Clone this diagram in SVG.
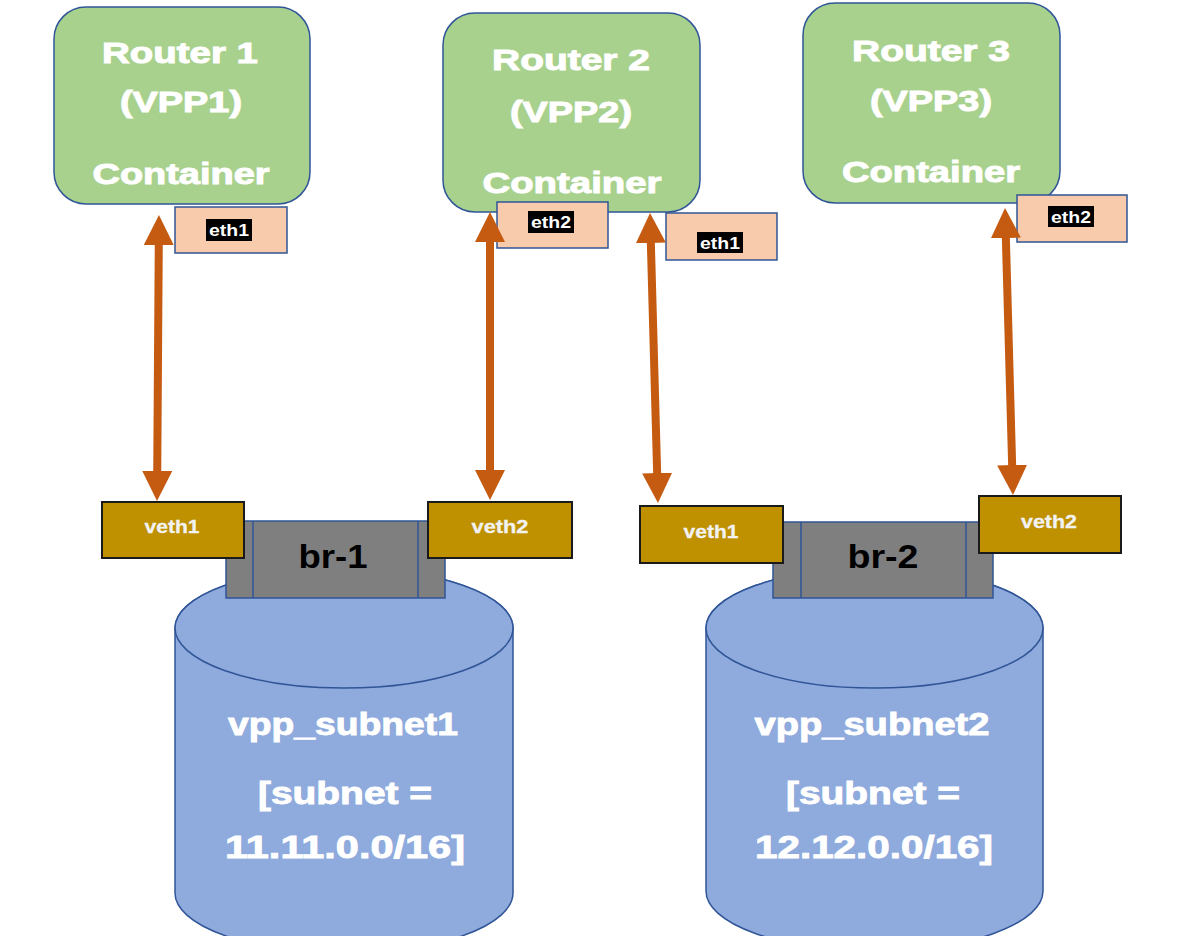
<svg xmlns="http://www.w3.org/2000/svg" width="1188" height="936" viewBox="0 0 1188 936">
<defs>
<style>
.router{fill:#a9d18e;stroke:#2f5597;stroke-width:1.5}
.rt{font-family:"Liberation Sans",Arial,sans-serif;font-weight:bold;font-size:30px;fill:#ffffff;stroke:#ffffff;stroke-width:1;text-anchor:middle}
.eth{fill:#f8cbad;stroke:#2f5597;stroke-width:1.5}
.hl{fill:#000000}
.et{font-family:"Liberation Sans",Arial,sans-serif;font-weight:bold;font-size:16px;fill:#ffffff;text-anchor:middle}
.veth{fill:#bf9000;stroke:#1a1a1a;stroke-width:2}
.vt{font-family:"Liberation Sans",Arial,sans-serif;font-weight:bold;font-size:19px;fill:#f2f2f2;stroke:#f2f2f2;stroke-width:0.3;text-anchor:middle}
.br{fill:#7f7f7f;stroke:#2f5597;stroke-width:1.5}
.brl{stroke:#2f5597;stroke-width:1.5}
.bt{font-family:"Liberation Sans",Arial,sans-serif;font-weight:bold;font-size:34px;fill:#000000;text-anchor:middle}
.cyl{fill:#8faadc;stroke:#2f5597;stroke-width:1.5}
.ct{font-family:"Liberation Sans",Arial,sans-serif;font-weight:bold;font-size:32px;fill:#ffffff;stroke:#ffffff;stroke-width:0.9;text-anchor:middle}
.conn{stroke:#c55a11;stroke-width:8;fill:none}
</style>
<marker id="ah" markerUnits="userSpaceOnUse" markerWidth="30" markerHeight="30" refX="20" refY="15" orient="auto-start-reverse">
<path d="M0,0 L30,15 L0,30 z" fill="#c55a11"/>
</marker>
</defs>
<rect width="1188" height="936" fill="#ffffff"/>

<g id="subnet1">
<path class="cyl" d="M175,628 L175,893 A169,60 0 0 0 513,893 L513,628 A169,60 0 0 0 175,628 z"/>
<ellipse class="cyl" cx="344" cy="628" rx="169" ry="60"/>
<text class="ct" x="343" y="735" textLength="230" lengthAdjust="spacingAndGlyphs">vpp_subnet1</text>
<text class="ct" x="345" y="804" textLength="174" lengthAdjust="spacingAndGlyphs">[subnet =</text>
<text class="ct" x="345" y="858" textLength="240" lengthAdjust="spacingAndGlyphs">11.11.0.0/16]</text>
</g>
<g id="subnet2">
<path class="cyl" d="M706,628 L706,891 A168.5,60 0 0 0 1043,891 L1043,628 A168.5,60 0 0 0 706,628 z"/>
<ellipse class="cyl" cx="874.5" cy="628" rx="168.5" ry="60"/>
<text class="ct" x="872" y="735" textLength="235" lengthAdjust="spacingAndGlyphs">vpp_subnet2</text>
<text class="ct" x="873" y="804" textLength="174" lengthAdjust="spacingAndGlyphs">[subnet =</text>
<text class="ct" x="874" y="858" textLength="238" lengthAdjust="spacingAndGlyphs">12.12.0.0/16]</text>
</g>

<g id="br-1">
<rect class="br" x="226" y="521" width="219" height="77"/>
<line class="brl" x1="253" y1="521" x2="253" y2="598"/>
<line class="brl" x1="418" y1="521" x2="418" y2="598"/>
<text class="bt" x="333" y="568" textLength="69" lengthAdjust="spacingAndGlyphs">br-1</text>
</g>
<g id="br-2">
<rect class="br" x="773" y="522" width="220" height="76"/>
<line class="brl" x1="801" y1="522" x2="801" y2="598"/>
<line class="brl" x1="966" y1="522" x2="966" y2="598"/>
<text class="bt" x="883" y="568" textLength="71" lengthAdjust="spacingAndGlyphs">br-2</text>
</g>

<g id="br1-veth1">
<rect class="veth" x="102" y="502" width="142" height="56"/>
<text class="vt" x="172" y="533" textLength="55" lengthAdjust="spacingAndGlyphs">veth1</text>
</g>
<g id="br1-veth2">
<rect class="veth" x="428" y="502" width="144" height="56"/>
<text class="vt" x="500" y="533" textLength="57" lengthAdjust="spacingAndGlyphs">veth2</text>
</g>
<g id="br2-veth1">
<rect class="veth" x="640" y="506" width="143" height="57"/>
<text class="vt" x="711" y="538" textLength="55" lengthAdjust="spacingAndGlyphs">veth1</text>
</g>
<g id="br2-veth2">
<rect class="veth" x="979" y="496" width="142" height="57"/>
<text class="vt" x="1049" y="528" textLength="56" lengthAdjust="spacingAndGlyphs">veth2</text>
</g>

<g id="router1">
<rect class="router" x="54" y="7" width="256" height="197" rx="32"/>
<text class="rt" x="180" y="63" textLength="156" lengthAdjust="spacingAndGlyphs">Router 1</text>
<text class="rt" x="181" y="112" textLength="122" lengthAdjust="spacingAndGlyphs">(VPP1)</text>
<text class="rt" x="181" y="184" textLength="177" lengthAdjust="spacingAndGlyphs">Container</text>
</g>
<g id="router2">
<rect class="router" x="443" y="13" width="257" height="199" rx="32"/>
<text class="rt" x="571" y="70" textLength="158" lengthAdjust="spacingAndGlyphs">Router 2</text>
<text class="rt" x="571" y="122" textLength="122" lengthAdjust="spacingAndGlyphs">(VPP2)</text>
<text class="rt" x="572" y="193" textLength="179" lengthAdjust="spacingAndGlyphs">Container</text>
</g>
<g id="router3">
<rect class="router" x="803" y="3" width="257" height="200" rx="32"/>
<text class="rt" x="931" y="61" textLength="158" lengthAdjust="spacingAndGlyphs">Router 3</text>
<text class="rt" x="931" y="111" textLength="122" lengthAdjust="spacingAndGlyphs">(VPP3)</text>
<text class="rt" x="931" y="182" textLength="178" lengthAdjust="spacingAndGlyphs">Container</text>
</g>

<g id="r1-eth1">
<rect class="eth" x="175" y="207" width="112" height="46"/>
<rect class="hl" x="206" y="219" width="46" height="22"/>
<text class="et" x="229" y="236" textLength="40" lengthAdjust="spacingAndGlyphs">eth1</text>
</g>
<g id="r2-eth2">
<rect class="eth" x="497" y="202" width="111" height="46"/>
<rect class="hl" x="528" y="211" width="46" height="22"/>
<text class="et" x="551" y="228" textLength="40" lengthAdjust="spacingAndGlyphs">eth2</text>
</g>
<g id="r2-eth1">
<rect class="eth" x="666" y="213" width="111" height="47"/>
<rect class="hl" x="697" y="232" width="46" height="21"/>
<text class="et" x="720" y="249" textLength="40" lengthAdjust="spacingAndGlyphs">eth1</text>
</g>
<g id="r3-eth2">
<rect class="eth" x="1017" y="195" width="110" height="47"/>
<rect class="hl" x="1048" y="206" width="46" height="21"/>
<text class="et" x="1071" y="223" textLength="40" lengthAdjust="spacingAndGlyphs">eth2</text>
</g>

<g id="connectors">
<line class="conn" x1="158.9" y1="225" x2="157.1" y2="491" marker-start="url(#ah)" marker-end="url(#ah)"/>
<line class="conn" x1="490" y1="222" x2="490" y2="490" marker-start="url(#ah)" marker-end="url(#ah)"/>
<line class="conn" x1="650.3" y1="223" x2="657.7" y2="493" marker-start="url(#ah)" marker-end="url(#ah)"/>
<line class="conn" x1="1005.3" y1="218" x2="1012.7" y2="485" marker-start="url(#ah)" marker-end="url(#ah)"/>
</g>
</svg>
